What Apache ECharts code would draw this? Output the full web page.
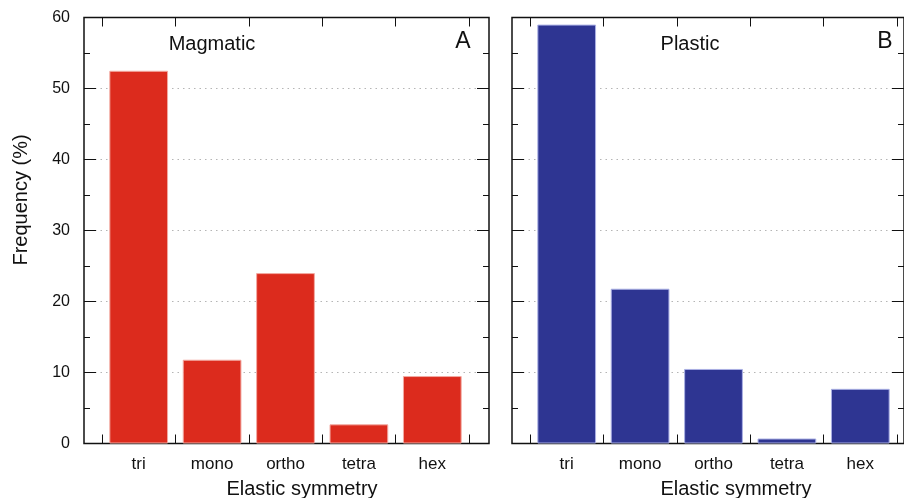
<!DOCTYPE html>
<html>
<head>
<meta charset="utf-8">
<script src="https://cdn.jsdelivr.net/npm/echarts@6/dist/echarts.min.js"></script>
<style>html,body{margin:0;padding:0;background:#fff}#c{width:904px;height:498px}</style>
</head>
<body>
<div id="c"></div>
<script>
const categories = ['tri', 'mono', 'ortho', 'tetra', 'hex'];
const magmatic = [52.5, 11.8, 24.0, 2.7, 9.5];
const plastic = [59.0, 21.8, 10.5, 0.7, 7.7];
const yTicks = { min: 0, max: 60, interval: 10 };
const panelTitles = ['Magmatic', 'Plastic'];
const panelLetters = ['A', 'B'];
const xTitle = 'Elastic symmetry';
const yTitle = 'Frequency (%)';

const FONT = 'Liberation Sans, Arial, sans-serif';
const INK = '#111111';
const chart = echarts.init(document.getElementById('c'));

const frames = [{ left: 84, width: 405 }, { left: 512, width: 405 }];
const inner = [{ left: 102, width: 367 }, { left: 530, width: 367 }];
const TOP = 17.5, H = 426;

const grids = [], xAxes = [], yAxes = [], series = [];
const datasets = [magmatic, plastic];
const colors = ['#dc2b1d', '#2e3592'];
const borders = ['#f2aaa2', '#aab0e4'];

for (let p = 0; p < 2; p++) {
  const gF = grids.length;
  grids.push({ left: frames[p].left, top: TOP, width: frames[p].width, height: H, show: true,
    borderColor: INK, borderWidth: 1.5, backgroundColor: 'transparent' });
  const gI = grids.length;
  grids.push({ left: inner[p].left, top: TOP, width: inner[p].width, height: H });

  xAxes.push({ gridIndex: gF, type: 'value', min: 0, max: 1, show: false });
  const xb = xAxes.length;
  xAxes.push({ gridIndex: gI, type: 'category', data: categories, position: 'bottom',
    axisLine: { show: false },
    axisTick: { show: true, inside: true, length: 9, lineStyle: { color: INK, width: 1 } },
    axisLabel: { color: INK, fontSize: 17, fontFamily: FONT, margin: 12 } });
  xAxes.push({ gridIndex: gI, type: 'category', data: categories, position: 'top',
    axisLine: { show: false },
    axisTick: { show: true, inside: true, length: 9, lineStyle: { color: INK, width: 1 } },
    axisLabel: { show: false } });

  const common = {
    type: 'value', min: yTicks.min, max: yTicks.max, interval: yTicks.interval,
    axisLine: { show: false },
    axisTick: { show: true, inside: true, length: 12, lineStyle: { color: INK, width: 1 } },
    minorTick: { show: true, splitNumber: 2, length: 6, lineStyle: { color: INK, width: 1 } }
  };
  yAxes.push(Object.assign({}, common, { gridIndex: gF, position: 'left',
    axisLabel: { show: p === 0, color: INK, fontSize: 16, fontFamily: FONT, margin: 14 },
    splitLine: { show: true, showMinLine: false, showMaxLine: false,
      lineStyle: { color: '#b5b5b5', type: [1.5, 4], width: 1 } } }));
  yAxes.push(Object.assign({}, common, { gridIndex: gF, position: 'right',
    axisLabel: { show: false }, splitLine: { show: false } }));
  const yb = yAxes.length;
  yAxes.push({ gridIndex: gI, type: 'value', min: yTicks.min, max: yTicks.max, show: false,
    splitLine: { show: false } });

  series.push({ type: 'bar', xAxisIndex: xb, yAxisIndex: yb, data: datasets[p],
    barWidth: '80%', z: 3,
    itemStyle: { color: colors[p], borderColor: borders[p], borderWidth: 1 } });
}

const txt = (x, y, s, size, extra) => Object.assign({
  type: 'text', x: x, y: y, z: 10,
  style: { text: s, fill: INK, font: size + 'px ' + FONT, textAlign: 'center', textVerticalAlign: 'middle' }
}, extra || {});

chart.setOption({
  animation: false,
  backgroundColor: '#fff',
  grid: grids, xAxis: xAxes, yAxis: yAxes, series: series,
  graphic: [
    txt(212, 44, panelTitles[0], 20),
    txt(463, 42, panelLetters[0], 23),
    txt(690, 44, panelTitles[1], 20),
    txt(885, 42, panelLetters[1], 23),
    txt(302, 489, xTitle, 20),
    txt(736, 489, xTitle, 20),
    txt(21, 200, yTitle, 20, { rotation: Math.PI / 2 })
  ]
});
</script>
</body>
</html>
